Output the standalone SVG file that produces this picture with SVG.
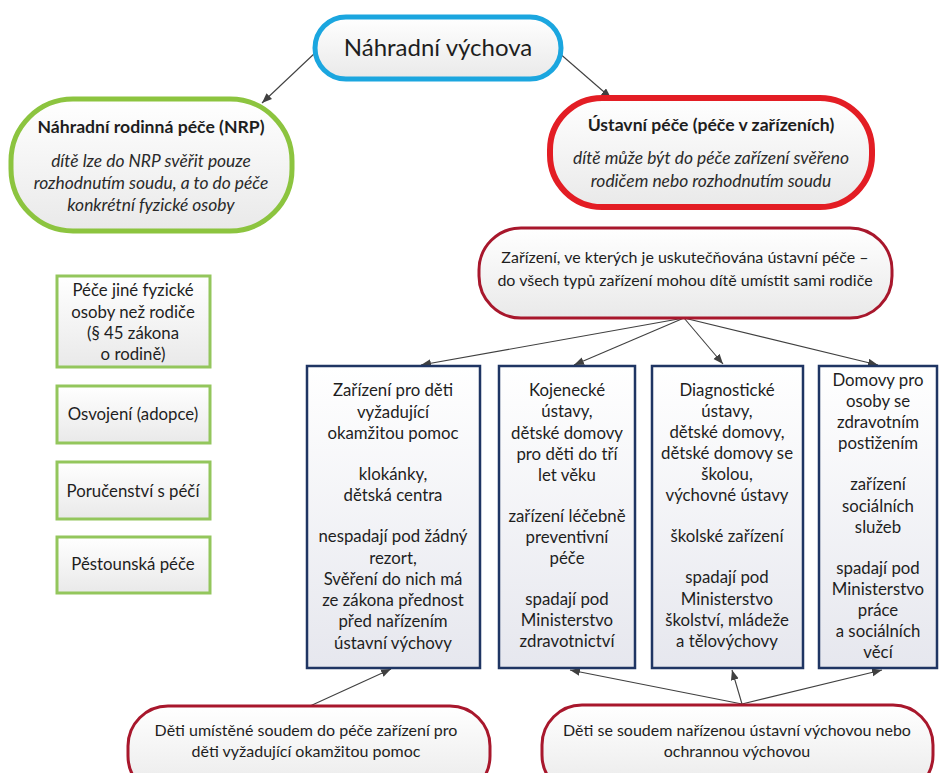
<svg xmlns="http://www.w3.org/2000/svg" width="941" height="773" viewBox="0 0 941 773">
<style>
text{font-family:Lato,"Noto Sans","Liberation Sans",sans-serif;fill:#1e1e1e;text-anchor:middle}
.t{font-size:16px}
.m{font-size:16.8px}
.b{font-size:17.6px;font-weight:bold}
.i{font-size:17.4px;font-style:italic;fill:#2a2a2a}
.big{font-size:24px}
.conn line{stroke:#404040;stroke-width:1.1;marker-end:url(#ah)}
.box{fill:url(#gb);stroke:#1f3563;stroke-width:2.5}
.gbox{fill:url(#gp);stroke:#93c65c;stroke-width:3}
</style>
<defs>
<linearGradient id="gp" x1="0" y1="0" x2="0" y2="1"><stop offset="0" stop-color="#ffffff"/><stop offset="1" stop-color="#e9e9e9"/></linearGradient>
<linearGradient id="gb" x1="0" y1="0" x2="0" y2="1"><stop offset="0" stop-color="#ffffff"/><stop offset="1" stop-color="#e6e7ee"/></linearGradient>
<marker id="ah" markerUnits="userSpaceOnUse" markerWidth="12" markerHeight="10" refX="10" refY="4" orient="auto"><path d="M0,0 L10,4 L0,8 Z" fill="#404040"/></marker>
</defs>
<g class="conn">
<line x1="316" y1="52" x2="262" y2="103"/>
<line x1="558" y1="52" x2="611" y2="98"/>
<line x1="684" y1="318" x2="421" y2="365"/>
<line x1="684" y1="318" x2="574" y2="365"/>
<line x1="684" y1="318" x2="723" y2="364"/>
<line x1="684" y1="318" x2="878" y2="365"/>
<line x1="310" y1="706" x2="391" y2="669"/>
<line x1="742" y1="704" x2="570" y2="670"/>
<line x1="742" y1="704" x2="732" y2="670"/>
<line x1="742" y1="704" x2="882" y2="670"/>
</g>
<g id="n-top">
<rect x="315" y="17" width="246" height="62" rx="31" fill="url(#gp)" stroke="#1ba6df" stroke-width="5"/>
<text class="big" x="438" y="56">Náhradní výchova</text>
</g>
<g id="n-nrp">
<rect x="11" y="99" width="281" height="132" rx="62" fill="url(#gp)" stroke="#8cc43f" stroke-width="5"/>
<text class="b" x="151" y="133">Náhradní rodinná péče (NRP)</text>
<text class="i" x="151" y="167">dítě lze do NRP svěřit pouze</text>
<text class="i" x="151" y="189">rozhodnutím soudu, a to do péče</text>
<text class="i" x="151" y="211">konkrétní fyzické osoby</text>
</g>
<g id="n-ustavni">
<rect x="550" y="98" width="322" height="109" rx="52" fill="url(#gp)" stroke="#e31d24" stroke-width="6"/>
<text class="b" x="711" y="131">Ústavní péče (péče v zařízeních)</text>
<text class="i" x="711" y="164">dítě může být do péče zařízení svěřeno</text>
<text class="i" x="711" y="187">rodičem nebo rozhodnutím soudu</text>
</g>
<g id="n-zarizeni">
<rect x="479" y="228" width="413" height="90" rx="42" fill="url(#gp)" stroke="#a8172c" stroke-width="3"/>
<text class="t" x="685" y="263">Zařízení, ve kterých je uskutečňována ústavní péče –</text>
<text class="t" x="685" y="286">do všech typů zařízení mohou dítě umístit sami rodiče</text>
</g>
<g id="n-g1">
<rect class="gbox" x="57" y="276" width="153" height="91"/>
<text class="m" x="133" y="296">Péče jiné fyzické</text>
<text class="m" x="133" y="318">osoby než rodiče</text>
<text class="m" x="133" y="339">(§ 45 zákona</text>
<text class="m" x="133" y="360">o rodině)</text>
</g>
<g id="n-g2">
<rect class="gbox" x="57" y="386" width="153" height="57"/>
<text class="m" x="133" y="420">Osvojení (adopce)</text>
</g>
<g id="n-g3">
<rect class="gbox" x="57" y="462" width="153" height="57"/>
<text class="m" x="133" y="497">Poručenství s péčí</text>
</g>
<g id="n-g4">
<rect class="gbox" x="57" y="537" width="153" height="56"/>
<text class="m" x="133" y="570">Pěstounská péče</text>
</g>
<g id="n-b1">
<rect class="box" x="307" y="366" width="173" height="302"/>
<text class="m" x="393" y="396">Zařízení pro děti</text>
<text class="m" x="393" y="418">vyžadující</text>
<text class="m" x="393" y="439">okamžitou pomoc</text>
<text class="m" x="393" y="480">klokánky,</text>
<text class="m" x="393" y="501">dětská centra</text>
<text class="m" x="393" y="542">nespadají pod žádný</text>
<text class="m" x="393" y="564">rezort,</text>
<text class="m" x="393" y="585">Svěření do nich má</text>
<text class="m" x="393" y="606">ze zákona přednost</text>
<text class="m" x="393" y="627">před nařízením</text>
<text class="m" x="393" y="649">ústavní výchovy</text>
</g>
<g id="n-b2">
<rect class="box" x="499" y="366" width="136" height="302"/>
<text class="m" x="567" y="396">Kojenecké</text>
<text class="m" x="567" y="417">ústavy,</text>
<text class="m" x="567" y="439">dětské domovy</text>
<text class="m" x="567" y="460">pro děti do tří</text>
<text class="m" x="567" y="481">let věku</text>
<text class="m" x="567" y="522">zařízení léčebně</text>
<text class="m" x="567" y="543">preventivní</text>
<text class="m" x="567" y="564">péče</text>
<text class="m" x="567" y="605">spadají pod</text>
<text class="m" x="567" y="626">Ministerstvo</text>
<text class="m" x="567" y="647">zdravotnictví</text>
</g>
<g id="n-b3">
<rect class="box" x="652" y="366" width="151" height="302"/>
<text class="m" x="727" y="396">Diagnostické</text>
<text class="m" x="727" y="417">ústavy,</text>
<text class="m" x="727" y="438">dětské domovy,</text>
<text class="m" x="727" y="459">dětské domovy se</text>
<text class="m" x="727" y="480">školou,</text>
<text class="m" x="727" y="501">výchovné ústavy</text>
<text class="m" x="727" y="542">školské zařízení</text>
<text class="m" x="727" y="583">spadají pod</text>
<text class="m" x="727" y="605">Ministerstvo</text>
<text class="m" x="727" y="626">školství, mládeže</text>
<text class="m" x="727" y="647">a tělovýchovy</text>
</g>
<g id="n-b4">
<rect class="box" x="819" y="366" width="118" height="302"/>
<text class="m" x="878" y="386">Domovy pro</text>
<text class="m" x="878" y="407">osoby se</text>
<text class="m" x="878" y="428">zdravotním</text>
<text class="m" x="878" y="449">postižením</text>
<text class="m" x="878" y="490">zařízení</text>
<text class="m" x="878" y="512">sociálních</text>
<text class="m" x="878" y="533">služeb</text>
<text class="m" x="878" y="574">spadají pod</text>
<text class="m" x="878" y="595">Ministerstvo</text>
<text class="m" x="878" y="616">práce</text>
<text class="m" x="878" y="637">a sociálních</text>
<text class="m" x="878" y="658">věcí</text>
</g>
<g id="n-bl">
<rect x="128" y="706" width="362" height="90" rx="40" fill="url(#gp)" stroke="#a8172c" stroke-width="3"/>
<text class="t" x="306" y="736">Děti umístěné soudem do péče zařízení pro</text>
<text class="t" x="306" y="757">děti vyžadující okamžitou pomoc</text>
</g>
<g id="n-br">
<rect x="542" y="705" width="391" height="90" rx="40" fill="url(#gp)" stroke="#a8172c" stroke-width="3"/>
<text class="t" x="737" y="736">Děti se soudem nařízenou ústavní výchovou nebo</text>
<text class="t" x="737" y="757">ochrannou výchovou</text>
</g>
</svg>
